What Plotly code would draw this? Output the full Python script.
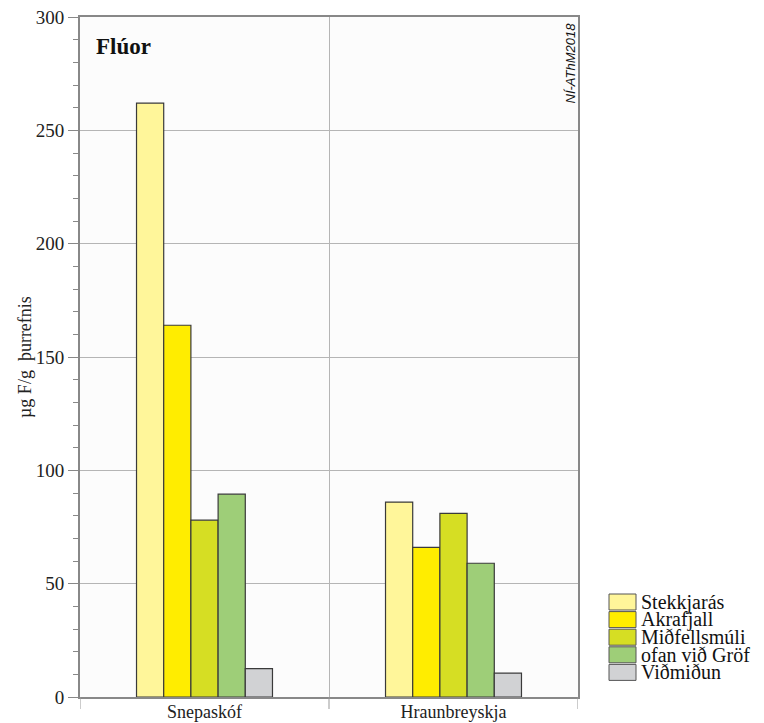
import plotly.graph_objects as go

categories = ["Snepaskóf", "Hraunbreyskja"]
series_names = ["Stekkjarás", "Akrafjall", "Miðfellsmúli", "ofan við Gröf", "Viðmiðun"]
stekkjaras = [262, 86]
akrafjall = [164, 66]
midfellsmuli = [78, 81]
ofan_vid_grof = [89.5, 59]
vidmidun = [12.5, 10.5]
series_values = [stekkjaras, akrafjall, midfellsmuli, ofan_vid_grof, vidmidun]
colors = ["#FFF69A", "#FFED00", "#D6DE23", "#9ECE78", "#D1D2D4"]
y_ticks = [0, 50, 100, 150, 200, 250, 300]

FONT = "Liberation Serif, Times New Roman, serif"

PX0, PY0 = 80, 17        # plot-area top-left in page pixels
PW, PH = 498, 680        # plot-area size


def px(xp):
    return (xp - PX0) / PW


def py(yp):
    return (PY0 + PH - yp) / PH


fig = go.Figure()
for name, vals, col in zip(series_names, series_values, colors):
    fig.add_trace(go.Bar(
        x=categories, y=vals, name=name,
        marker=dict(color=col, line=dict(color="#3a3a3a", width=1.2)),
        showlegend=False,
    ))

fig.update_layout(
    width=764, height=723,
    margin=dict(l=80, r=186, t=17, b=26),
    paper_bgcolor="white",
    plot_bgcolor="#FCFCFC",
    barmode="group",
    bargap=0.454, bargroupgap=0,
    font=dict(family=FONT, size=18, color="#222"),
)
fig.update_xaxes(
    range=[-0.5, 1.5], automargin=False,
    showline=True, linecolor="#888", linewidth=2, mirror=True,
    tickson="boundaries", showgrid=True, gridcolor="#B5B5B5", gridwidth=1,
    ticks="", ticklabelstandoff=-3,
    tickfont=dict(family=FONT, size=18, color="#222"),
)
fig.update_yaxes(
    range=[0, 300], tickvals=y_ticks, automargin=False,
    showline=True, linecolor="#888", linewidth=2, mirror=True,
    showgrid=True, gridcolor="#B5B5B5", gridwidth=1,
    ticks="outside", ticklen=10, tickcolor="#888", tickwidth=1,
    minor=dict(dtick=10, ticks="outside", ticklen=5, tickcolor="#888", showgrid=False),
    tickfont=dict(family=FONT, size=19, color="#222"),
    zeroline=False,
)

# category boundary ticks below the x axis
for xb in [-0.5, 0.5, 1.5]:
    fig.add_shape(type="line", xref="x", yref="paper", x0=xb, x1=xb,
                  y0=0, y1=-12 / PH, line=dict(color="#999", width=1))

# y axis title
fig.add_annotation(text="µg F/g  þurrefnis", xref="paper", yref="paper",
                   x=px(25), y=0.5, xanchor="center", yanchor="middle",
                   textangle=-90, showarrow=False,
                   font=dict(family=FONT, size=18, color="#222"))

fig.add_annotation(text="<b>Flúor</b>", xref="paper", yref="paper",
                   x=px(94), y=py(47),
                   xanchor="left", yanchor="middle", showarrow=False,
                   font=dict(family=FONT, size=23, color="#111"))
fig.add_annotation(text="<i>NÍ-AThM2018</i>", xref="paper", yref="paper",
                   x=px(570), y=py(21),
                   xanchor="center", yanchor="top", textangle=-90, showarrow=False,
                   font=dict(family="Liberation Sans", size=13, color="#111"))

# manual legend
box_x0, box_x1 = 609, 636
for i, (name, col) in enumerate(zip(series_names, colors)):
    y0 = 594 + i * 17.6
    fig.add_shape(type="rect", xref="paper", yref="paper",
                  x0=px(box_x0), x1=px(box_x1),
                  y0=py(y0 + 16), y1=py(y0),
                  fillcolor=col, line=dict(color="#555", width=1))
    fig.add_annotation(text=name, xref="paper", yref="paper",
                       x=px(639), y=py(y0 + 8),
                       xanchor="left", yanchor="middle", showarrow=False,
                       font=dict(family=FONT, size=20, color="#111"))

fig.write_html("out.html",
               config={"displayModeBar": False},
               post_script="document.body.style.margin='0';document.body.style.overflow='hidden';")
